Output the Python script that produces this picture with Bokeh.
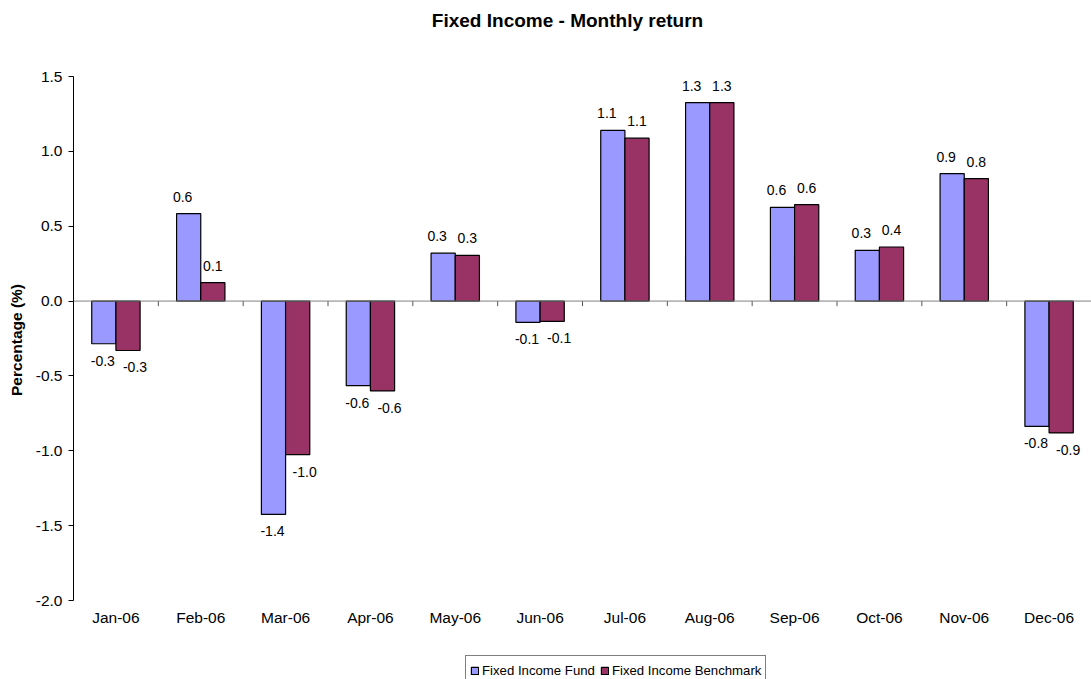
from bokeh.plotting import figure
from bokeh.models import (ColumnDataSource, Range1d, FixedTicker, PrintfTickFormatter,
                          Span, Legend, LegendItem, CategoricalAxis, Label)
from bokeh.transform import dodge
from bokeh.core.properties import value
from bokeh.embed import file_html
from bokeh.resources import INLINE

months = ["Jan-06", "Feb-06", "Mar-06", "Apr-06", "May-06", "Jun-06",
          "Jul-06", "Aug-06", "Sep-06", "Oct-06", "Nov-06", "Dec-06"]
fund = [-0.285, 0.584, -1.425, -0.565, 0.32, -0.142, 1.14, 1.325, 0.626, 0.339, 0.851, -0.837]
bench = [-0.33, 0.123, -1.026, -0.60, 0.305, -0.136, 1.088, 1.325, 0.644, 0.361, 0.818, -0.881]
y_ticks = [-2.0, -1.5, -1.0, -0.5, 0.0, 0.5, 1.0, 1.5]
series_names = ["Fixed Income Fund", "Fixed Income Benchmark"]
title_text = "Fixed Income - Monthly return"
y_label = "Percentage (%)"

FONT = "Liberation Sans"
FUND_COLOR = "#9999FF"
BENCH_COLOR = "#993366"
BAR_W = 0.285
OFF = BAR_W / 2

W, H = 1091, 679
LEFT = 73            # px where the value axis sits
AX_TOP, AX_BOT = 76, 600   # px of the 1.5 and -2.0 gridlines
Y_MIN, Y_MAX = y_ticks[0], y_ticks[-1]
ppu = (AX_BOT - AX_TOP) / (Y_MAX - Y_MIN)
y_lo = Y_MIN - (H - AX_BOT) / ppu
y_hi = Y_MAX + AX_TOP / ppu

p = figure(x_range=months, y_range=Range1d(y_lo, y_hi), width=W, height=H,
           output_backend="svg", toolbar_location=None, x_axis_location=None,
           min_border_left=LEFT, min_border_right=0, min_border_top=0, min_border_bottom=0)
p.outline_line_color = None
p.xgrid.grid_line_color = None
p.ygrid.grid_line_color = None
p.background_fill_color = "white"
p.border_fill_color = "white"

# y axis
yax = p.yaxis[0]
yax.bounds = (Y_MIN, Y_MAX)
yax.ticker = FixedTicker(ticks=y_ticks)
yax.formatter = PrintfTickFormatter(format="%.1f")
yax.major_label_text_font = FONT
yax.major_label_text_font_size = "15.5px"
yax.major_label_text_color = "black"
yax.major_tick_out = 5
yax.major_tick_in = 0
yax.minor_tick_line_color = None
yax.axis_line_color = "black"
yax.major_tick_line_color = "black"
yax.major_label_standoff = 6
yax.axis_label = y_label
yax.axis_label_text_font = FONT
yax.axis_label_text_font_size = "15.5px"
yax.axis_label_text_font_style = "bold"
yax.axis_label_text_color = "black"
yax.axis_label_standoff = 8

# category axis fixed at the bottom of the value range
xax = CategoricalAxis(fixed_location=Y_MIN)
xax.axis_line_color = None
xax.major_tick_line_color = None
xax.major_tick_out = 0
xax.minor_tick_line_color = None
xax.major_label_text_font = FONT
xax.major_label_text_font_size = "15.5px"
xax.major_label_text_color = "black"
xax.major_label_standoff = 8
p.add_layout(xax, "below")

src = ColumnDataSource(dict(month=months, fund=fund, bench=bench))

zero = Span(location=0, dimension="width", line_color="#808080", line_width=1)
p.add_layout(zero)

tick_src = ColumnDataSource(dict(month=months[1:], y0=[0.0] * (len(months) - 1),
                                 y1=[-0.034] * (len(months) - 1)))
p.segment(x0=dodge("month", -0.5, range=p.x_range), x1=dodge("month", -0.5, range=p.x_range),
          y0="y0", y1="y1", source=tick_src, line_color="#555555", line_width=1)

r_fund = p.vbar(x=dodge("month", -OFF, range=p.x_range), top="fund", width=BAR_W, source=src,
                fill_color=FUND_COLOR, line_color="black", line_width=1.2)
r_bench = p.vbar(x=dodge("month", OFF, range=p.x_range), top="bench", width=BAR_W, source=src,
                 fill_color=BENCH_COLOR, line_color="black", line_width=1.2)

# data labels
for vals, off, xo_pos, xo_neg in ((fund, -OFF, -6, -1), (bench, OFF, 0, 7)):
    pos_m = [m for m, v in zip(months, vals) if v >= 0]
    pos_v = [v for v in vals if v >= 0]
    neg_m = [m for m, v in zip(months, vals) if v < 0]
    neg_v = [v for v in vals if v < 0]
    ps = ColumnDataSource(dict(month=pos_m, v=pos_v, t=[f"{v:.1f}" for v in pos_v]))
    ns = ColumnDataSource(dict(month=neg_m, v=neg_v, t=[f"{v:.1f}" for v in neg_v]))
    p.text(x=dodge("month", off, range=p.x_range), y="v", text="t", source=ps,
           text_align="center", text_baseline="bottom", y_offset=-12, x_offset=xo_pos,
           text_font=value(FONT), text_font_size="14px", text_color="black")
    p.text(x=dodge("month", off, range=p.x_range), y="v", text="t", source=ns,
           text_align="center", text_baseline="top", y_offset=12, x_offset=xo_neg,
           text_font=value(FONT), text_font_size="14px", text_color="black")

# title (screen units relative to the plot area's bottom-left)
title = Label(x=567 - LEFT, y=H - 19.5, x_units="screen", y_units="screen",
              text=title_text, text_font=FONT, text_font_size="19px",
              text_font_style="bold", text_color="black",
              text_align="center", text_baseline="middle")
p.add_layout(title)

legend = Legend(items=[LegendItem(label=series_names[0], renderers=[r_fund]),
                       LegendItem(label=series_names[1], renderers=[r_bench])],
                orientation="horizontal", location=(465 - LEFT, -6))
legend.label_text_font = FONT
legend.label_text_font_size = "13.2px"
legend.label_text_color = "black"
legend.glyph_width = 9
legend.glyph_height = 9
legend.label_standoff = 3
legend.spacing = 5
legend.padding = 4
legend.margin = 0
legend.label_height = 20
legend.border_line_color = "black"
legend.border_line_width = 1
legend.background_fill_color = "white"
legend.background_fill_alpha = 1.0
p.add_layout(legend, "center")

open("out.html", "w").write(file_html(p, INLINE))
